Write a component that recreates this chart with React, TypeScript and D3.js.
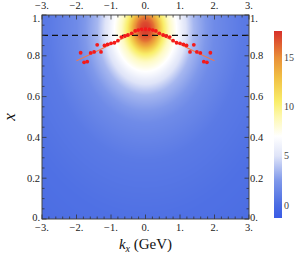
import { useEffect, useRef } from 'react';
import * as d3 from 'd3';

const peakValue = 17.6;
const peakKx = 0;
const peakX = 0.93;
const xScaleOfKx = 0.23; // 1 GeV in kx looks like 0.23 in x
const radialAt = [0, 0.15, 0.25, 0.35, 0.53, 0.7, 0.87, 1.1, 1.4, 2.0, 2.8, 4.0, 5.5];
const radialProfile = [1, 0.96, 0.9, 0.8, 0.6, 0.48, 0.41, 0.31, 0.2, 0.1, 0.045, 0.015, 0];

// red points
const leftKx = [-1.88, -1.78, -1.69, -1.59, -1.49, -1.4, -1.29, -1.19, -1.1, -1.0, -0.9, -0.8, -0.7, -0.6, -0.51, -0.4, -0.3, -0.21, -0.11, 0];
const leftX = [0.815, 0.768, 0.771, 0.814, 0.819, 0.854, 0.819, 0.851, 0.856, 0.861, 0.864, 0.874, 0.892, 0.897, 0.902, 0.91, 0.922, 0.926, 0.93, 0.931];
const rightKx = [0.11, 0.21, 0.3, 0.4, 0.51, 0.6, 0.7, 0.8, 0.9, 1.0, 1.1, 1.19, 1.29, 1.4, 1.49, 1.59, 1.69, 1.78, 1.88];
const rightX = [0.93, 0.926, 0.922, 0.91, 0.902, 0.897, 0.892, 0.874, 0.864, 0.861, 0.856, 0.851, 0.819, 0.854, 0.819, 0.814, 0.771, 0.768, 0.815];

// orange fit lines
const fitLeftKx = [-2, -1.5, -1, -0.5, 0];
const fitLeftX = [0.776, 0.815, 0.857, 0.898, 0.935];
const fitRightKx = [0, 0.5, 1, 1.5, 2];
const fitRightX = [0.935, 0.898, 0.857, 0.815, 0.776];

const dashedX = 0.9;

const xTickLabels = ['\u22123.', '\u22122.', '\u22121.', '0.', '1.', '2.', '3.'];
const yTickLabels = ['0.', '0.2', '0.4', '0.6', '0.8', '1.'];
const barTicks = [0, 5, 10, 15];

const colorStops = [-1.3, 0, 2.5, 5, 7, 9, 10.5, 13, 15, 17.7];
const colorValues = ['#3a5be6', '#4a6ce3', '#7f98ea', '#dfe4f8', '#ffffff', '#fdf8b0', '#f9ee6a', '#f1bf43', '#e98f38', '#d7302b'];

const W = 296;
const H = 256;
const font = '"Liberation Serif", "DejaVu Serif", serif';

export default function App() {
  const svgRef = useRef<SVGSVGElement>(null);

  useEffect(() => {
    if (!svgRef.current) return;
    const svg = d3.select(svgRef.current);
    svg.selectAll('*').remove();

    const left = 42, right = 249, top = 15, bottom = 219;
    const x = d3.scaleLinear().domain([-3, 3]).range([left, right]);
    const y = d3.scaleLinear().domain([0, 1]).range([bottom, top]);

    const color = d3.scaleLinear<string>()
      .domain(colorStops)
      .range(colorValues)
      .interpolate(d3.interpolateRgb)
      .clamp(true);

    const radial = d3.scaleLinear().domain(radialAt).range(radialProfile).clamp(true);

    // heat map into a canvas image
    const pw = right - left, ph = bottom - top;
    const canvas = document.createElement('canvas');
    canvas.width = pw;
    canvas.height = ph;
    const ctx = canvas.getContext('2d')!;
    const img = ctx.createImageData(pw, ph);
    for (let j = 0; j < ph; j++) {
      const xv = y.invert(top + j + 0.5);
      for (let i = 0; i < pw; i++) {
        const kv = x.invert(left + i + 0.5);
        const r = Math.hypot(kv - peakKx, (xv - peakX) / xScaleOfKx);
        const c = d3.rgb(color(peakValue * radial(r)));
        const k = (j * pw + i) * 4;
        img.data[k] = c.r;
        img.data[k + 1] = c.g;
        img.data[k + 2] = c.b;
        img.data[k + 3] = 255;
      }
    }
    ctx.putImageData(img, 0, 0);
    svg.append('image')
      .attr('x', left).attr('y', top)
      .attr('width', pw).attr('height', ph)
      .attr('preserveAspectRatio', 'none')
      .attr('href', canvas.toDataURL());

    // dashed line
    svg.append('line')
      .attr('x1', left).attr('x2', right)
      .attr('y1', y(dashedX)).attr('y2', y(dashedX))
      .attr('stroke', '#111')
      .attr('stroke-width', 1.2)
      .attr('stroke-dasharray', '6,4');

    // fit lines
    const line = d3.line<[number, number]>().x(d => x(d[0])).y(d => y(d[1]));
    [[fitLeftKx, fitLeftX], [fitRightKx, fitRightX]].forEach(([ks, xs]) => {
      svg.append('path')
        .attr('d', line(ks.map((k, i) => [k, xs[i]] as [number, number])))
        .attr('fill', 'none')
        .attr('stroke', '#f0784e')
        .attr('stroke-width', 1.2);
    });

    // points
    const pts = [
      ...leftKx.map((k, i) => [k, leftX[i]]),
      ...rightKx.map((k, i) => [k, rightX[i]]),
    ];
    svg.append('g').selectAll('circle')
      .data(pts)
      .join('circle')
      .attr('cx', d => x(d[0]))
      .attr('cy', d => y(d[1]))
      .attr('r', 1.9)
      .attr('fill', '#f41a1a');

    // frame
    svg.append('rect')
      .attr('x', left).attr('y', top)
      .attr('width', pw).attr('height', ph)
      .attr('fill', 'none')
      .attr('stroke', '#444')
      .attr('stroke-width', 1);

    const tickG = svg.append('g').attr('stroke', '#333').attr('stroke-width', 0.8);
    const xMinor = d3.range(-3, 3.001, 0.2);
    xMinor.forEach(v => {
      const major = Math.abs(v - Math.round(v)) < 1e-6;
      const len = major ? 4.5 : 2.5;
      tickG.append('line').attr('x1', x(v)).attr('x2', x(v)).attr('y1', bottom).attr('y2', bottom - len);
      tickG.append('line').attr('x1', x(v)).attr('x2', x(v)).attr('y1', top).attr('y2', top + len);
    });
    const yMinor = d3.range(0, 1.0001, 0.05);
    yMinor.forEach(v => {
      const major = Math.abs(v * 5 - Math.round(v * 5)) < 1e-6;
      const len = major ? 4.5 : 2.5;
      tickG.append('line').attr('x1', left).attr('x2', left + len).attr('y1', y(v)).attr('y2', y(v));
      tickG.append('line').attr('x1', right).attr('x2', right - len).attr('y1', y(v)).attr('y2', y(v));
    });

    // tick labels
    const xMajor = d3.range(-3, 3.001, 1);
    xMajor.forEach((v, i) => {
      [9, 231].forEach(ty => {
        svg.append('text')
          .attr('x', x(v)).attr('y', ty)
          .attr('text-anchor', 'middle')
          .style('font-family', font).style('font-size', '10.5px').style('fill', '#222')
          .text(xTickLabels[i]);
      });
    });
    const yMajor = d3.range(0, 1.0001, 0.2);
    yMajor.forEach((v, i) => {
      // the end labels sit a little inwards so they clear the kx labels
      const dy = i === 0 ? 1.5 : i === yMajor.length - 1 ? 6.5 : 3.5;
      svg.append('text')
        .attr('x', left - 2).attr('y', y(v) + dy)
        .attr('text-anchor', 'end')
        .style('font-family', font).style('font-size', '10.5px').style('fill', '#222')
        .text(yTickLabels[i]);
      svg.append('text')
        .attr('x', right + 1).attr('y', y(v) + dy)
        .attr('text-anchor', 'start')
        .style('font-family', font).style('font-size', '10.5px').style('fill', '#222')
        .text(yTickLabels[i]);
    });

    // axis titles
    svg.append('text')
      .attr('transform', `translate(15,${(top + bottom) / 2}) rotate(-90)`)
      .attr('text-anchor', 'middle')
      .style('font-family', font).style('font-size', '17px').style('font-style', 'italic').style('fill', '#111')
      .text('x');
    const xt = svg.append('text')
      .attr('x', (left + right) / 2).attr('y', 249)
      .attr('text-anchor', 'middle')
      .style('font-family', font).style('font-size', '15px').style('fill', '#111');
    xt.append('tspan').style('font-style', 'italic').text('k');
    xt.append('tspan').style('font-style', 'italic').style('font-size', '10px').attr('dy', 3).text('x');
    xt.append('tspan').attr('dy', -3).text(' (GeV)');

    // colour bar
    const barTop = 31, barBottom = 218, barX = 274, barW = 8;
    const cb = d3.scaleLinear().domain([-1.3, 17.7]).range([barBottom, barTop]);
    const defs = svg.append('defs');
    const grad = defs.append('linearGradient')
      .attr('id', 'cbar').attr('x1', 0).attr('x2', 0).attr('y1', 1).attr('y2', 0);
    colorStops.forEach((s, i) => {
      grad.append('stop')
        .attr('offset', (s - (-1.3)) / (17.7 - (-1.3)))
        .attr('stop-color', colorValues[i]);
    });
    svg.append('rect')
      .attr('x', barX).attr('y', barTop)
      .attr('width', barW).attr('height', barBottom - barTop)
      .attr('fill', 'url(#cbar)');
    barTicks.forEach(t => {
      svg.append('text')
        .attr('x', barX + 10).attr('y', cb(t) + 3.5)
        .style('font-family', font).style('font-size', '10px').style('fill', '#444')
        .text(String(t));
    });
  }, []);

  return (
    <svg
      ref={svgRef}
      width={W}
      height={H}
      style={{ position: 'absolute', left: 0, top: 0, background: '#fff' }}
    />
  );
}
